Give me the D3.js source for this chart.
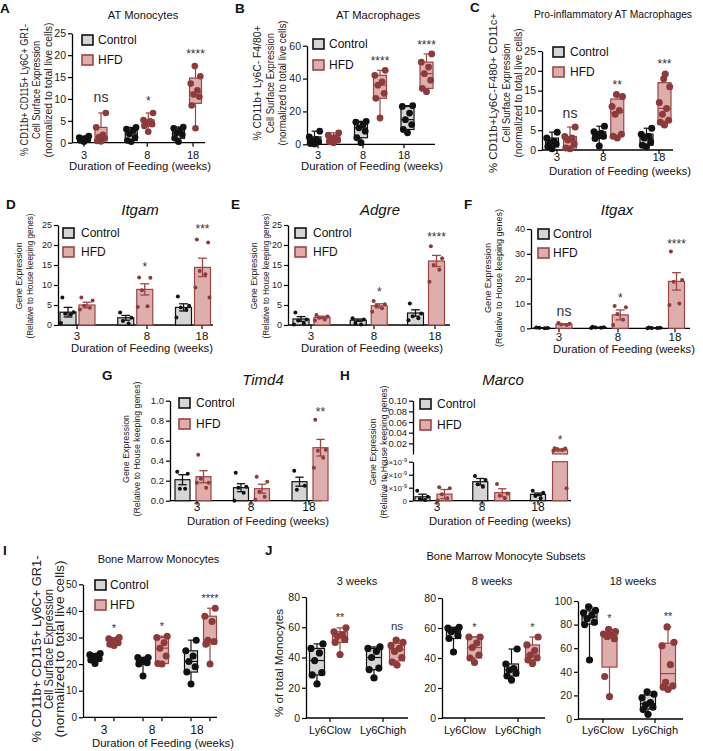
<!DOCTYPE html>
<html><head><meta charset="utf-8">
<script src="https://cdn.jsdelivr.net/npm/d3@7"></script>
<style>body{margin:0;background:#fff} svg text{font-family:"Liberation Sans",Arial,Helvetica,sans-serif}</style>
</head><body><svg id="c" width="703" height="751"></svg>
<script>
// ---------------- DATA ----------------
const weeks = ["3","8","18"];
const subsets = ["Ly6Clow","Ly6Chigh"];
const groups = ["Control","HFD"];

// A: AT Monocytes (box plots, individual mice)
const aControl = [[0.2,0.5,0.7,0.8,1.0,1.2,1.5],[0.2,0.5,1.2,2.0,2.8,3.1,3.5],[0.2,1.0,1.8,2.2,2.8,3.3,3.6]];
const aHFD = [[0.3,0.4,1.0,1.3,1.8,3.5,6.8],[2.5,3.8,4.2,4.5,4.9,5.2,6.8],[3.3,8.5,10.5,11,12,13.5,15.2,17.5]];
const aSig = ["ns","*","****"];

// B: AT Macrophages
const bControl = [[0.2,0.5,1.5,2,3,4.5,8],[1,4,8,10,12,13.5,14],[7,9,12,15,19,23,23.5]];
const bHFD = [[1,1.5,2.5,3,4,5.5,7],[16,28,31,36,38,42,45],[32,34,39,43,47,50,55]];
const bSig = ["","****","****"];

// C: Pro-inflammatory AT Macrophages
const cControl = [[0.3,0.8,1.5,1.8,2.2,3,4.5],[1,2.9,3.5,3.7,4.2,4.6,6],[0.8,1.2,2,3,3.5,4,5.5]];
const cHFD = [[0.3,0.5,1.5,2.5,3,3.4,5.8],[3,3.5,4,9,10,11,13.5,14],[6.3,7,7.5,9,10.5,12,16,18,19.2]];
const cSig = ["ns","**","***"];

// D: Itgam (mean ± SEM)
const dControlMean = [3.2,1.8,4.4], dControlSem = [1.2,0.6,0.9];
const dControlPts = [[6.9,3.2,2.8,2.6,0.5],[3.1,1.8,1.0,0.4],[7.1,4.8,4.4,3.8,1.9]];
const dHFDMean = [5.0,8.9,14.4], dHFDSem = [0.7,1.4,2.3];
const dHFDPts = [[6.9,6.1,4.8,4.3,3.9],[11.9,11.8,8.7,4.7,4.5],[21.4,20.6,13.5,12.7,9.4,6.9]];
const dSig = ["","*","***"];

// E: Adgre
const eControlMean = [1.5,1.2,3.0], eControlSem = [0.6,0.3,0.8];
const eControlPts = [[3.1,1.4,1.1,0.4,0.1],[1.7,1.4,0.4,0.1],[5.4,2.9,2.2,1.7,1.2]];
const eHFDMean = [1.9,4.8,16.0], eHFDSem = [0.3,0.5,1.4];
const eHFDPts = [[2.5,2.1,1.8,1.4,1.1],[6.0,5.2,4.8,4.2,3.3],[19.7,16.7,15.0,13.8,10.8]];
const eSig = ["","*","****"];

// F: Itgax
const fControlMean = [0.15,0.3,0.15], fControlSem = [0.05,0.1,0.05];
const fControlPts = [[0.3,0.1,0.2,0.05],[0.6,0.4,0.3,0.2,0.1],[0.3,0.2,0.1,0.1,0.05]];
const fHFDMean = [1.6,5.4,18.9], fHFDSem = [0.2,2.0,3.5];
const fHFDPts = [[2.1,1.8,1.5,1.3],[9.0,8.5,5.8,3.4,1.3],[30.9,19.5,18.8,10.0,9.4]];
const fSig = ["ns","*","****"];

// G: Timd4
const gControlMean = [0.21,0.13,0.19], gControlSem = [0.05,0.04,0.045];
const gControlPts = [[0.29,0.27,0.12,0.12],[0.28,0.14,0.13,0.08,0.0],[0.30,0.15,0.11]];
const gHFDMean = [0.24,0.12,0.53], gHFDSem = [0.06,0.045,0.083];
const gHFDPts = [[0.46,0.18,0.22,0.13,0.18],[0.24,0.19,0.09,0.04,0.01],[0.81,0.51,0.50,0.43,0.33]];
const gSig = ["","","**"];

// H: Marco (broken axis)
const hControlMean = [0.3e-9,1.46e-9,0.49e-9], hControlSem = [0.2e-9,0.25e-9,0.1e-9];
const hControlPts = [[0.77e-9,0.3e-9,0.13e-9,0.05e-9],[1.9e-9,1.6e-9,1.26e-9,1.08e-9],[0.77e-9,0.62e-9,0.36e-9,0.18e-9]];
const hHFDMean = [0.51e-9,0.62e-9,0.0075], hHFDSem = [0.35e-9,0.3e-9,0.002];
const hHFDPts = [[1.03e-9,0.95e-9,0.49e-9,0.18e-9,0.02e-9],[1.28e-9,0.56e-9,0.38e-9,0.18e-9],[0.011,0.0105,0.0095,0.008,0.006,0.95e-9]];
const hSig = ["","","*"];

// I: Bone Marrow Monocytes
const iControl = [[20.2,21.5,22,22.5,23,23.5,24],[15.5,20,20.5,21,21.5,22.5,22.5],[12.5,17,19,21,23,25,29]];
const iHFD = [[27,27.5,28,28.5,29,29.5,30],[20,20.2,23,26,28,30,30.5],[20,27.5,28.5,29,36,38,41]];
const iSig = ["*","*","****"];

// J: Bone Marrow Monocyte Subsets (3, 8, 18 weeks)
const j3Control = [[22.5,28.5,30,38,43,46,49],[26.5,32,33,40,44,46,47]];
const j3HFD = [[42,50,52,54,55,57,59.6],[35,37,40,44,46,48,50,51.5]];
const j3Sig = ["**","ns"];
const j8Control = [[44,53,55,57.5,58.5,60,60.5],[25.3,28,30,32,33,36,46]];
const j8HFD = [[37,40,42,47,50,54,54],[36.4,38.7,40,42,45,48.7,54]];
const j8Sig = ["*","*"];
const j18Control = [[50,80,82,85,88,90,92,95],[4,8,10,12,14,18,21,23]];
const j18HFD = [[19,36,68,70,71,72,74,76],[25,27,28,31,46,62,65,78]];
const j18Sig = ["*","**"];

// ---------------- STYLE / HELPERS ----------------
const svg = d3.select("#c");
const COL = {
  Control:{fill:"#d5d5d5", stroke:"#111", pt:"#111"},
  HFD:{fill:"#ddaeac", stroke:"#9a4646", pt:"#8c3a3a"}
};
const SPREAD = [0,-0.32,0.32,-0.16,0.16,-0.4,0.4,-0.06,0.06];

function T(x,y,s,o={}){
  const t = svg.append("text").attr("x",x).attr("y",y).text(s)
    .attr("font-size",o.fs||11).attr("text-anchor",o.anchor||"middle").attr("fill",o.fill||"#111");
  if(o.bold) t.attr("font-weight","bold");
  if(o.italic) t.attr("font-style","italic");
  if(o.len) t.attr("textLength",o.len).attr("lengthAdjust","spacingAndGlyphs");
  return t;
}
function q6(s,p){ // GraphPad-style quantile
  const n=s.length, h=(n+1)*p;
  if(h<=1) return s[0]; if(h>=n) return s[n-1];
  const f=Math.floor(h); return s[f-1]+(h-f)*(s[f]-s[f-1]);
}
function yAxis(L,y,ticks,fmt,fs){
  const g = svg.append("g").attr("transform",`translate(${L.ax},0)`)
    .call(d3.axisLeft(y).tickValues(ticks).tickFormat(fmt).tickSize(4).tickSizeOuter(0).tickPadding(2));
  g.select(".domain").attr("stroke","#000").attr("stroke-width",1.3);
  g.selectAll(".tick line").attr("stroke","#000").attr("stroke-width",1.2);
  g.selectAll(".tick text").attr("font-size",fs).attr("fill","#222");
  return g;
}

function panel(L,P){
  let yv, lo, hi;
  if(L.broken){
    lo = d3.scaleLinear().domain(L.loDomain).range([L.yBot,L.loTop]);
    hi = d3.scaleLinear().domain(L.hiDomain).range([L.hiBot,L.yTop]);
    yv = v => v <= L.loDomain[1] ? lo(v) : hi(v);
    const gl = yAxis(L,lo,L.loTicks,d=>d===0?"0":"",L.loFs);
    gl.selectAll(".tick text").each(function(d){
      if(d>0){const t=d3.select(this); t.text(null);
        t.append("tspan").text(Math.round(d/1e-9)+"×10");
        t.append("tspan").attr("dy",-3).attr("font-size",L.loFs*0.7).text("-9");}
    });
    yAxis(L,hi,L.hiTicks,d3.format(".2f"),L.yFs);
  } else {
    const y = d3.scaleLinear().domain(L.domain).range([L.yBot,L.yTop]);
    yv = y;
    yAxis(L,y,L.ticks,L.fmt||d3.format("d"),L.yFs);
  }
  const x = d3.scalePoint().domain(P.cats).range(L.centers);
  const side = d3.scaleOrdinal().domain(groups).range([-L.dx,L.dx]);

  // x axis
  svg.append("line").attr("x1",L.ax).attr("x2",L.axEnd).attr("y1",L.yBot).attr("y2",L.yBot)
    .attr("stroke","#000").attr("stroke-width",1.3);
  P.cats.forEach((c,i)=>{
    const lx = x(c)+L.labelShift[i];
    const tks = L.boxTicks ? groups.map(g=>x(c)+side(g)) : [lx];
    tks.forEach(tx=>svg.append("line").attr("x1",tx).attr("x2",tx).attr("y1",L.yBot).attr("y2",L.yBot+4)
      .attr("stroke","#000").attr("stroke-width",1.2));
    T(lx,L.labelY,c,{fs:L.xFs});
  });

  groups.forEach(g=>{
    const col = COL[g];
    P.cats.forEach((c,i)=>{
      const cx = x(c)+side(g);
      if(P.kind==="box"){
        const vals = P[g][i].slice().sort(d3.ascending);
        const q1=q6(vals,.25), md=q6(vals,.5), q3=q6(vals,.75), mn=vals[0], mx=vals[vals.length-1];
        const cw = L.bw*0.45;
        [[mn,q1],[q3,mx]].forEach(([a,b])=>svg.append("line").attr("x1",cx).attr("x2",cx)
          .attr("y1",yv(a)).attr("y2",yv(b)).attr("stroke",col.stroke).attr("stroke-width",1.2));
        [mn,mx].forEach(v=>svg.append("line").attr("x1",cx-cw/2).attr("x2",cx+cw/2)
          .attr("y1",yv(v)).attr("y2",yv(v)).attr("stroke",col.stroke).attr("stroke-width",1.2));
        svg.append("rect").attr("x",cx-L.bw/2).attr("y",yv(q3)).attr("width",L.bw)
          .attr("height",Math.max(0.5,yv(q1)-yv(q3))).attr("fill",col.fill).attr("stroke",col.stroke).attr("stroke-width",1.2);
        svg.append("line").attr("x1",cx-L.bw/2).attr("x2",cx+L.bw/2).attr("y1",yv(md)).attr("y2",yv(md))
          .attr("stroke",col.stroke).attr("stroke-width",1.2);
        vals.forEach((v,k)=>svg.append("circle").attr("cx",cx+SPREAD[k%SPREAD.length]*L.bw)
          .attr("cy",yv(v)).attr("r",L.r).attr("fill",col.pt));
      } else {
        const m = P[g+"Mean"][i], s = P[g+"Sem"][i], pts = P[g+"Pts"][i];
        const bar = (y0,y1)=>svg.append("rect").attr("x",cx-L.bw/2).attr("y",y1).attr("width",L.bw)
          .attr("height",Math.max(0.6,y0-y1)).attr("fill",col.fill).attr("stroke",col.stroke).attr("stroke-width",1.2);
        if(L.broken && m > L.loDomain[1]){ bar(lo(0),lo(L.loDomain[1])); bar(hi(0),hi(m)); }
        else bar(yv(0),yv(m));
        pts.forEach((v,k)=>svg.append("circle").attr("cx",cx+SPREAD[(k+1)%SPREAD.length]*L.bw*1.1)
          .attr("cy",yv(v)).attr("r",L.r).attr("fill",col.pt));
        const cw = L.bw*0.55;
        svg.append("line").attr("x1",cx).attr("x2",cx).attr("y1",yv(Math.max(0,m-s))).attr("y2",yv(m+s))
          .attr("stroke",col.stroke).attr("stroke-width",1.3);
        [Math.max(0,m-s),m+s].forEach(v=>svg.append("line").attr("x1",cx-cw/2).attr("x2",cx+cw/2)
          .attr("y1",yv(v)).attr("y2",yv(v)).attr("stroke",col.stroke).attr("stroke-width",1.3));
      }
    });
  });

  // significance marks above HFD
  P.cats.forEach((c,i)=>{
    const s = P.sig[i]; if(!s) return;
    const top = P.kind==="box" ? d3.max(P.HFD[i]) : Math.max(d3.max(P.HFDPts[i]),P.HFDMean[i]+P.HFDSem[i]);
    const cx = x(c)+side("HFD");
    if(s==="ns") T(cx,yv(top)-L.gap-3,"ns",{fs:L.nsFs||14,fill:"#333"});
    else T(cx,yv(top)-L.gap,s,{fs:L.starFs||12,fill:"#333"});
  });

  // legend
  if(L.leg){
    groups.forEach((g,k)=>{
      const yy = k? L.leg.y2 : L.leg.y1;
      svg.append("rect").attr("x",L.leg.x).attr("y",yy).attr("width",11).attr("height",10)
        .attr("fill",COL[g].fill).attr("stroke",COL[g].stroke).attr("stroke-width",1.6);
      T(L.leg.tx,yy+9,g,{fs:L.leg.fs||12,anchor:"start"});
    });
  }
  // titles
  if(L.title) T(L.title.x,L.title.y,L.title.text,{fs:L.title.fs||11.2,italic:L.title.italic,len:L.title.len});
  if(L.xTitle) T(L.xTitle.x,L.xTitle.y,"Duration of Feeding (weeks)",{fs:11.3});
  if(L.letter) T(L.letter.x,L.letter.y,L.letter.t,{fs:13.5,bold:true,anchor:"start"});
  if(L.ylab){
    L.ylab.lines.forEach((s,k)=>{
      svg.append("text").attr("transform",`translate(${L.ylab.xs[k]},${L.ylab.cy}) rotate(-90)`)
        .attr("text-anchor","middle").attr("font-size",L.ylab.fs).attr("fill","#222")
        .attr("textLength",L.ylab.lens[k]).attr("lengthAdjust","spacingAndGlyphs").text(s);
    });
  }
}

const cellLab = ["% CD11b+ CD115+ Ly6C+ GR1-","Cell Surface Expression","(normalized to total live cells)"];
const geneLab = ["Gene Expression","(Relative to House keeping genes)"];

// ---------------- PANELS ----------------
panel({ax:72,axEnd:205,yBot:142.7,yTop:33.3,domain:[0,25],ticks:[0,5,10,15,20,25],yFs:10.5,
  centers:[92.5,187],dx:8.5,bw:12,r:3.3,labelShift:[-8.5,7.5,6],labelY:158.5,xFs:11,
  xTitle:{x:140,y:169.5},title:{text:"AT Monocytes",x:143,y:19},letter:{t:"A",x:0,y:12.5},
  leg:{x:82,y1:35,y2:55,tx:98},gap:8,
  ylab:{lines:cellLab,xs:[27.5,39.5,51.5],cy:90,lens:[132,98,135],fs:10.5}},
  {kind:"box",cats:weeks,Control:aControl,HFD:aHFD,sig:aSig});

panel({ax:307,axEnd:435,yBot:144.3,yTop:45.7,domain:[0,60],ticks:[0,20,40,60],yFs:10.5,
  centers:[324,417],dx:9.5,bw:13,r:3.4,labelShift:[-6,-7.5,-13],labelY:158.5,xFs:11,
  xTitle:{x:372,y:169.5},title:{text:"AT Macrophages",x:378,y:19},letter:{t:"B",x:235,y:13},
  leg:{x:313,y1:39,y2:60,tx:329},gap:5,
  ylab:{lines:["% CD11b+ Ly6C- F4/80+","Cell Surface Expression","(normalized to total live cells)"],xs:[261,273.5,286],cy:83,lens:[115,100,125],fs:10.5}},
  {kind:"box",cats:weeks,Control:bControl,HFD:bHFD,sig:bSig});

panel({ax:542,axEnd:673,yBot:150,yTop:51,domain:[0,25],ticks:[0,5,10,15,20,25],yFs:10.5,
  centers:[561,655.5],dx:9,bw:13,r:3.5,labelShift:[-4,-5,3.5],labelY:161,xFs:11.5,
  xTitle:{x:620,y:175},title:{text:"Pro-inflammatory AT Macrophages",x:613,y:18,fs:10.5,len:158},letter:{t:"C",x:470,y:12},
  leg:{x:553,y1:47,y2:67,tx:570},gap:6,
  ylab:{lines:["% CD11b+Ly6C-F480+ CD11c+","Cell Surface Expression","(normalized to total live cells)"],xs:[497,510,522],cy:93,lens:[160,99,129],fs:10.5}},
  {kind:"box",cats:weeks,Control:cControl,HFD:cHFD,sig:cSig});

panel({ax:58,axEnd:213,yBot:325,yTop:225,domain:[0,25],ticks:[0,5,10,15,20,25],yFs:9,
  centers:[77.5,193],dx:9.5,bw:16,r:2,labelShift:[-0.5,11.75,9],labelY:340,xFs:11.5,
  xTitle:{x:142,y:352},title:{text:"Itgam",x:140,y:215,fs:15,italic:true},letter:{t:"D",x:6,y:209},
  leg:{x:63,y1:228,y2:247,tx:81},gap:6.5,
  ylab:{lines:geneLab,xs:[22,33],cy:276,lens:[67,125],fs:9.5}},
  {kind:"bar",cats:weeks,ControlMean:dControlMean,ControlSem:dControlSem,ControlPts:dControlPts,
   HFDMean:dHFDMean,HFDSem:dHFDSem,HFDPts:dHFDPts,sig:dSig});

panel({ax:288,axEnd:450,yBot:325,yTop:225,domain:[0,25],ticks:[0,5,10,15,20,25],yFs:9,
  centers:[311.5,426],dx:10.5,bw:16,r:2,labelShift:[-0.5,5.25,9],labelY:340,xFs:11.5,
  xTitle:{x:372,y:352},title:{text:"Adgre",x:380,y:215,fs:15,italic:true},letter:{t:"E",x:231,y:209},
  leg:{x:295,y1:228,y2:247,tx:313},gap:5,
  ylab:{lines:geneLab,xs:[257,269],cy:276,lens:[67,125],fs:9.5}},
  {kind:"bar",cats:weeks,ControlMean:eControlMean,ControlSem:eControlSem,ControlPts:eControlPts,
   HFDMean:eHFDMean,HFDSem:eHFDSem,HFDPts:eHFDPts,sig:eSig});

panel({ax:531,axEnd:690,yBot:328.3,yTop:229,domain:[0,40],ticks:[0,10,20,30,40],yFs:9,
  centers:[553,665.5],dx:11,bw:16,r:2,labelShift:[6,8.75,9.5],labelY:341,xFs:11.5,
  xTitle:{x:624,y:353},title:{text:"Itgax",x:617,y:215,fs:15,italic:true},letter:{t:"F",x:464,y:209},
  leg:{x:538,y1:229,y2:248,tx:553},gap:4,
  ylab:{lines:geneLab,xs:[491,502],cy:278,lens:[70,138],fs:9.5}},
  {kind:"bar",cats:weeks,ControlMean:fControlMean,ControlSem:fControlSem,ControlPts:fControlPts,
   HFDMean:fHFDMean,HFDSem:fHFDSem,HFDPts:fHFDPts,sig:fSig});

panel({ax:170,axEnd:322,yBot:500.7,yTop:400.7,domain:[0,1],ticks:[0,0.2,0.4,0.6,0.8,1.0],fmt:d3.format(".1f"),yFs:9.5,
  centers:[193,310],dx:10.5,bw:15,r:2,labelShift:[4,-0.5,-1],labelY:511,xFs:12,
  xTitle:{x:258,y:525},title:{text:"Timd4",x:263,y:385,fs:15,italic:true},letter:{t:"G",x:102,y:380},
  leg:{x:179,y1:398,y2:419,tx:196},gap:4,
  ylab:{lines:geneLab,xs:[129,140],cy:449,lens:[68,135],fs:9.5}},
  {kind:"bar",cats:weeks,ControlMean:gControlMean,ControlSem:gControlSem,ControlPts:gControlPts,
   HFDMean:gHFDMean,HFDSem:gHFDSem,HFDPts:gHFDPts,sig:gSig});

panel({ax:413,axEnd:571,broken:true,loDomain:[0,3e-9],yBot:500.7,loTop:461.7,hiDomain:[0,0.1],hiBot:454,yTop:400.7,
  loTicks:[0,1e-9,2e-9,3e-9],hiTicks:[0.02,0.04,0.06,0.08,0.10],loFs:8,yFs:9.5,
  centers:[433.5,549],dx:11,bw:15,r:2,labelShift:[3.5,-9.25,-11],labelY:511,xFs:12,
  xTitle:{x:500,y:525},title:{text:"Marco",x:503,y:385,fs:15,italic:true},letter:{t:"H",x:340,y:380},
  leg:{x:420,y1:399,y2:420,tx:437},gap:4,
  ylab:{lines:geneLab,xs:[376,387],cy:452,lens:[67,133],fs:9.5}},
  {kind:"bar",cats:weeks,ControlMean:hControlMean,ControlSem:hControlSem,ControlPts:hControlPts,
   HFDMean:hHFDMean,HFDSem:hHFDSem,HFDPts:hHFDPts,sig:hSig});

panel({ax:83,axEnd:217,yBot:717.3,yTop:584.3,domain:[0,50],ticks:[0,10,20,30,40,50],yFs:10,
  centers:[104.5,200.5],dx:9.5,bw:13,r:3.5,labelShift:[-0.5,-0.5,-3.5],labelY:734,xFs:12,boxTicks:true,
  xTitle:{x:163,y:747},title:{text:"Bone Marrow Monocytes",x:158.5,y:563,fs:11},letter:{t:"I",x:3,y:555},
  leg:{x:95,y1:580,y2:600,tx:110},gap:6,starFs:11,
  ylab:{lines:cellLab,xs:[41,53,64],cy:649,lens:[187,120,177],fs:12}},
  {kind:"box",cats:weeks,Control:iControl,HFD:iHFD,sig:iSig});

T(265,555,"J",{fs:13.5,bold:true,anchor:"start"});
T(506,560,"Bone Marrow Monocyte Subsets",{fs:11});

panel({ax:306,axEnd:408,yBot:718,yTop:597,domain:[0,80],ticks:[0,20,40,60,80],yFs:10.5,
  centers:[328.5,385.5],dx:11.5,bw:15,r:3.6,labelShift:[1.5,-2.5],labelY:734,xFs:11,
  title:{text:"3 weeks",x:357,y:585,fs:11},gap:7,starFs:11,nsFs:11.5,
  ylab:{lines:["% of total Monocytes"],xs:[283],cy:663,lens:[108],fs:11}},
  {kind:"box",cats:subsets,Control:j3Control,HFD:j3HFD,sig:j3Sig});

panel({ax:442,axEnd:545,yBot:718,yTop:598,domain:[0,80],ticks:[0,20,40,60,80],yFs:10.5,
  centers:[464,522],dx:10.5,bw:14,r:3.6,labelShift:[1,-4],labelY:734,xFs:11,
  title:{text:"8 weeks",x:492,y:585,fs:11},gap:6,starFs:11},
  {kind:"box",cats:subsets,Control:j8Control,HFD:j8HFD,sig:j8Sig});

panel({ax:578,axEnd:683,yBot:719,yTop:601,domain:[0,100],ticks:[0,20,40,60,80,100],yFs:10.5,
  centers:[599.5,658],dx:10,bw:15,r:3.6,labelShift:[3.5,-3],labelY:734,xFs:11,
  title:{text:"18 weeks",x:633,y:585,fs:11},gap:7,starFs:11},
  {kind:"box",cats:subsets,Control:j18Control,HFD:j18HFD,sig:j18Sig});
</script></body></html>
